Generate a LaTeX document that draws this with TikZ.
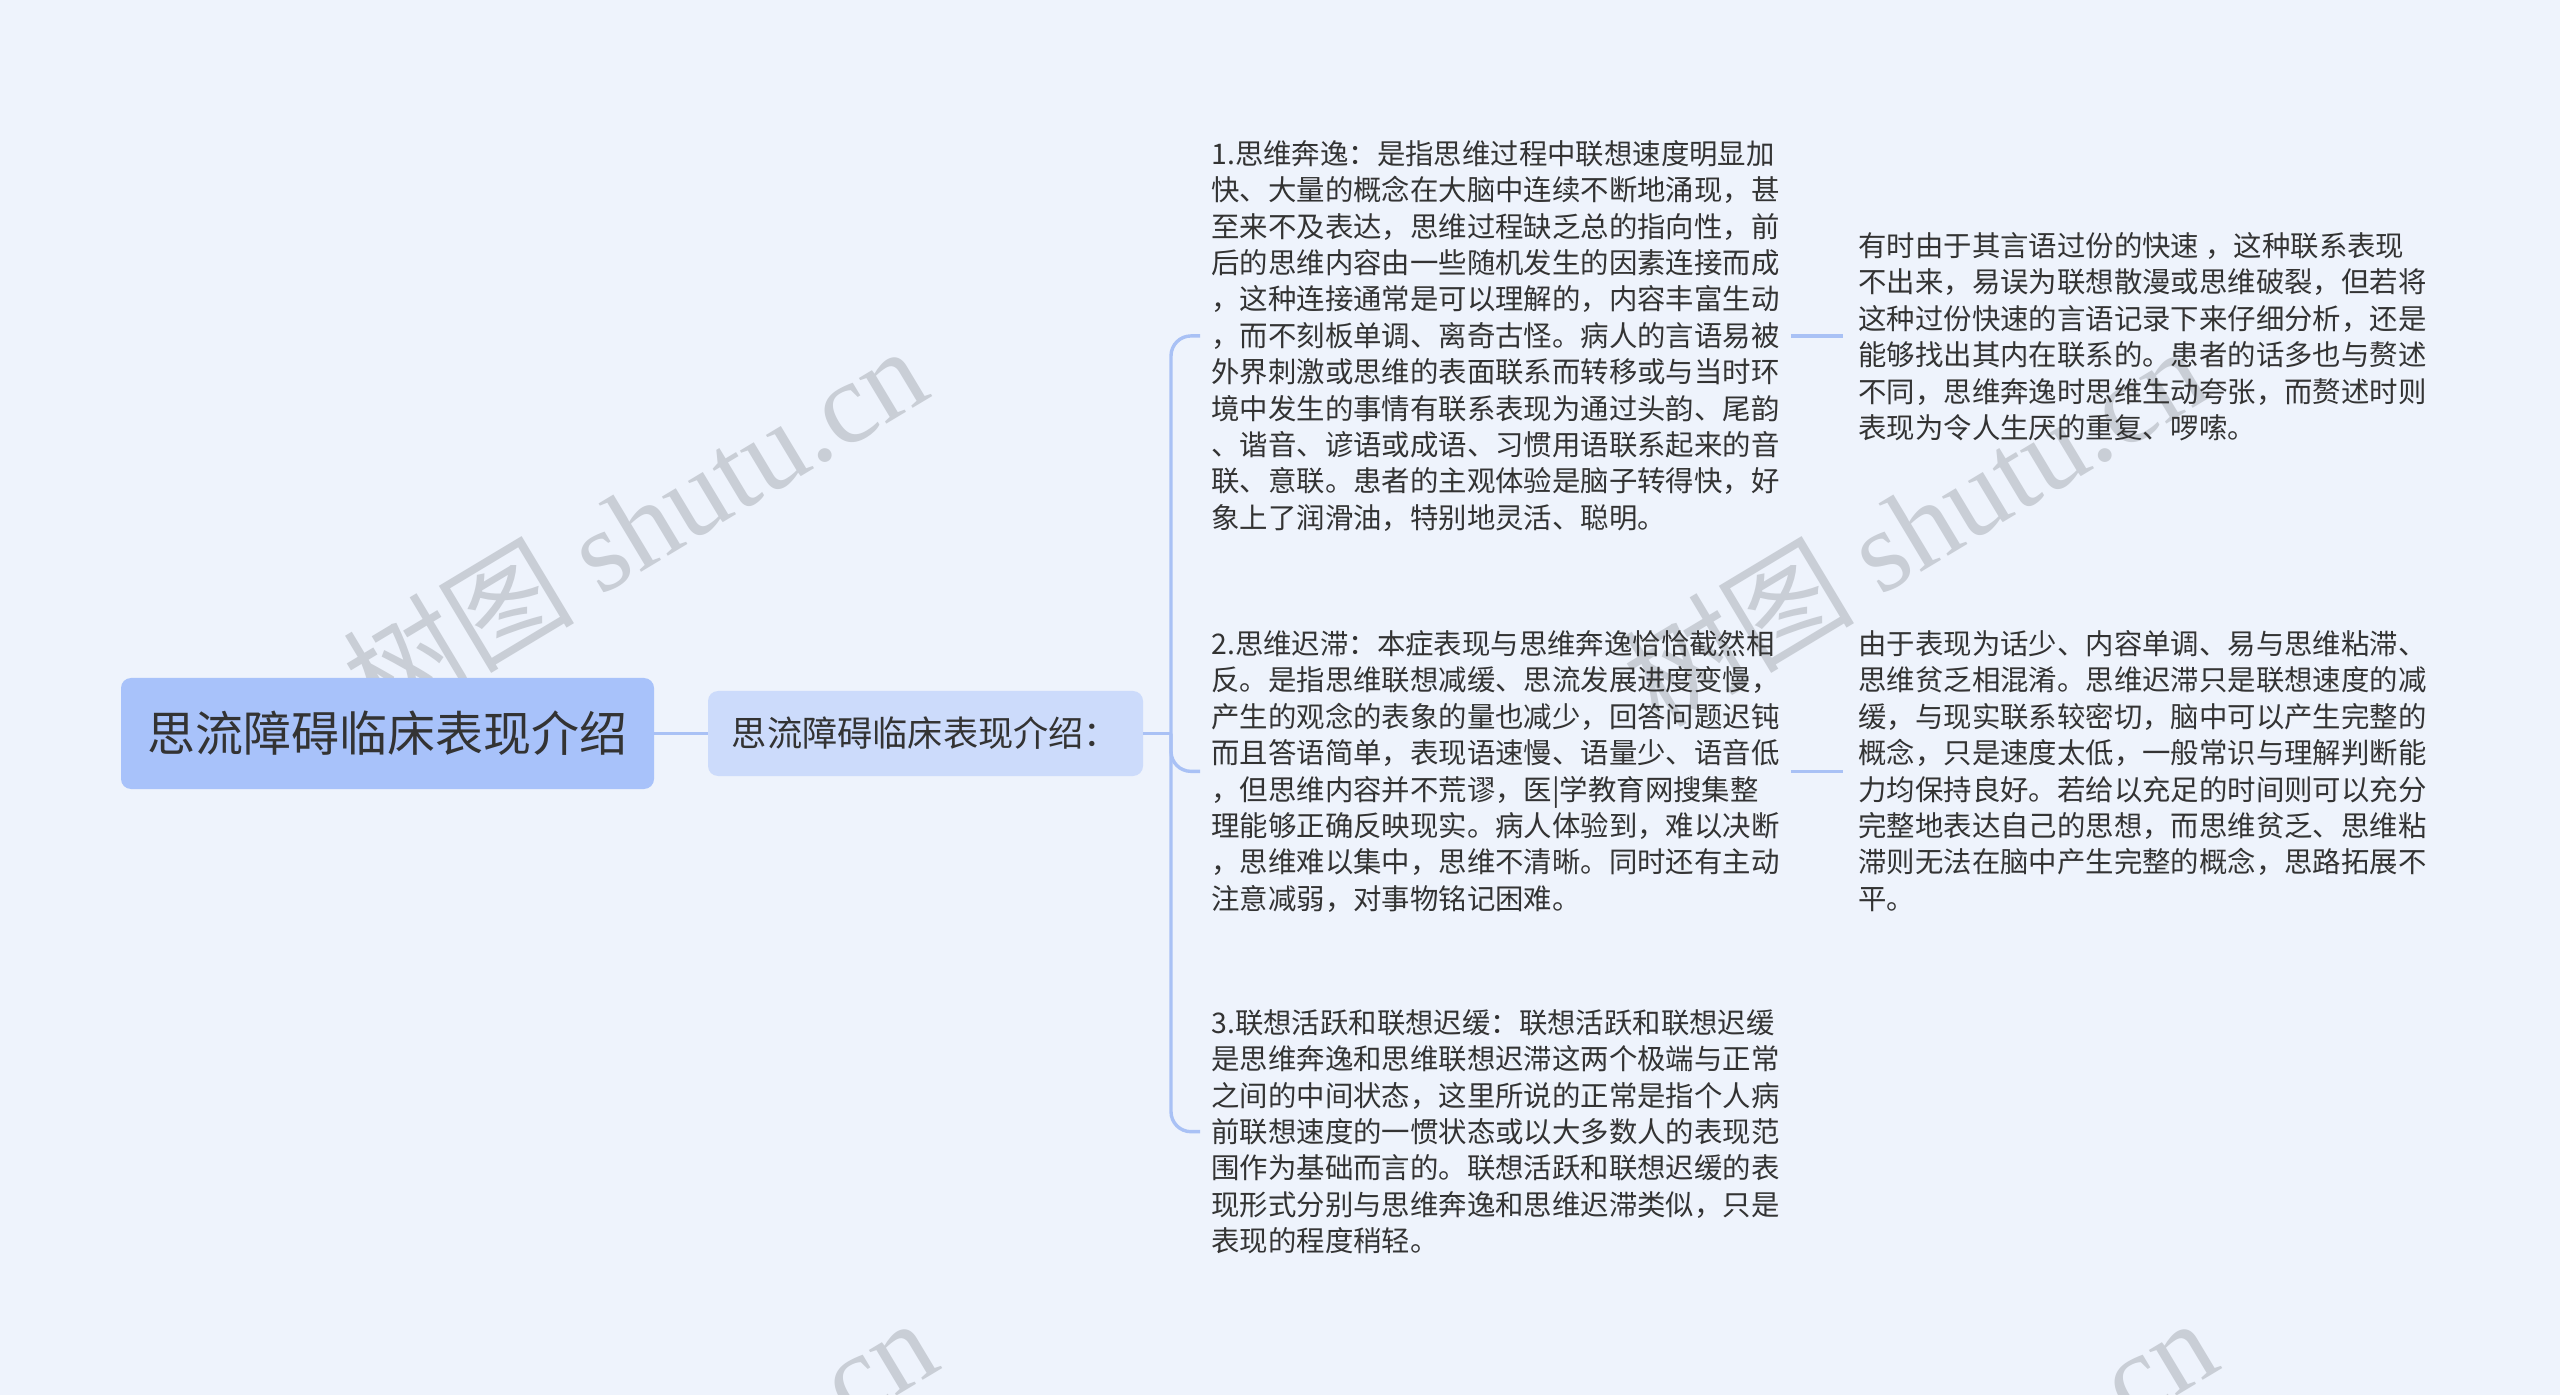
\documentclass[tikz,border=0pt]{standalone}
\usepackage{fontspec}
\setmainfont{Noto Sans CJK SC}
\newfontfamily\wmfont{Liberation Serif}
\definecolor{bgcol}{HTML}{EEF3FC}
\definecolor{rootcol}{HTML}{A8C2FA}
\definecolor{subcol}{HTML}{CCDBFB}
\definecolor{linkcol}{HTML}{A9C1F5}
\definecolor{inkcol}{HTML}{333333}
\definecolor{wmcol}{HTML}{C9CED6}

\begin{document}
\begin{tikzpicture}[x=0.5pt,y=-0.5pt]
  \tikzset{rootbox/.style={shape=rectangle,rounded corners=5pt,fill=rootcol,text=inkcol,font=\fontsize{24pt}{28pt}\selectfont,minimum width=266.5pt,minimum height=55.5pt,inner sep=0pt},
    subbox/.style={shape=rectangle,rounded corners=5pt,fill=subcol,text=inkcol,font=\fontsize{17.6pt}{20pt}\selectfont,minimum width=217.5pt,minimum height=42.5pt,inner sep=0pt},
    leaf/.style={anchor=north west,align=left,text=inkcol,font=\fontsize{14.2pt}{18.2pt}\selectfont,inner xsep=5.5pt,inner ysep=0pt},
    farleaf/.style={leaf,inner xsep=7.5pt},
    link/.style={draw=linkcol,line width=1.7pt},
    wmark/.style={anchor=base west,rotate=31,text=wmcol,font=\fontsize{58pt}{58pt}\selectfont,inner sep=0pt}};
  \useasboundingbox (0,0) rectangle (2560,1395);
  \fill[bgcol] (0,0) rectangle (2560,1395);
  \begin{scope}
    \clip (0,0) rectangle (2560,1395);
    \foreach \wx/\wy [count=\i] in {379/730,1659/730,389/1702,1669/1702}
      \node[wmark] (wm\i) at (\wx,\wy) {树图 {\wmfont shutu.cn}};
  \end{scope}
  \node[rootbox] (root) at (387.5,733.5) {思流障碍临床表现介绍};
  \node[subbox] (sub) at (925.5,733.5) {思流障碍临床表现介绍：};
  \node[leaf] (b1) at (1200,140) {1.思维奔逸：是指思维过程中联想速度明显加\\
快、大量的概念在大脑中连续不断地涌现，甚\\
至来不及表达，思维过程缺乏总的指向性，前\\
后的思维内容由一些随机发生的因素连接而成\\
，这种连接通常是可以理解的，内容丰富生动\\
，而不刻板单调、离奇古怪。病人的言语易被\\
外界刺激或思维的表面联系而转移或与当时环\\
境中发生的事情有联系表现为通过头韵、尾韵\\
、谐音、谚语或成语、习惯用语联系起来的音\\
联、意联。患者的主观体验是脑子转得快，好\\
象上了润滑油，特别地灵活、聪明。};
  \node[leaf] (b2) at (1200,630) {2.思维迟滞：本症表现与思维奔逸恰恰截然相\\
反。是指思维联想减缓、思流发展进度变慢，\\
产生的观念的表象的量也减少，回答问题迟钝\\
而且答语简单，表现语速慢、语量少、语音低\\
，但思维内容并不荒谬，医|学教育网搜集整\\
理能够正确反映现实。病人体验到，难以决断\\
，思维难以集中，思维不清晰。同时还有主动\\
注意减弱，对事物铭记困难。};
  \node[leaf] (b3) at (1200,1009) {3.联想活跃和联想迟缓：联想活跃和联想迟缓\\
是思维奔逸和思维联想迟滞这两个极端与正常\\
之间的中间状态，这里所说的正常是指个人病\\
前联想速度的一惯状态或以大多数人的表现范\\
围作为基础而言的。联想活跃和联想迟缓的表\\
现形式分别与思维奔逸和思维迟滞类似，只是\\
表现的程度稍轻。};
  \node[farleaf] (r1) at (1843,232) {有时由于其言语过份的快速 ，这种联系表现\\
不出来，易误为联想散漫或思维破裂，但若将\\
这种过份快速的言语记录下来仔细分析，还是\\
能够找出其内在联系的。患者的话多也与赘述\\
不同，思维奔逸时思维生动夸张，而赘述时则\\
表现为令人生厌的重复、啰嗦。};
  \node[farleaf] (r2) at (1843,630) {由于表现为话少、内容单调、易与思维粘滞、\\
思维贫乏相混淆。思维迟滞只是联想速度的减\\
缓，与现实联系较密切，脑中可以产生完整的\\
概念，只是速度太低，一般常识与理解判断能\\
力均保持良好。若给以充足的时间则可以充分\\
完整地表达自己的思想，而思维贫乏、思维粘\\
滞则无法在脑中产生完整的概念，思路拓展不\\
平。};
  \coordinate (fork) at (1171,733.5);
  \draw[link] (root.east) -- (sub.west);
  \draw[link] (sub.east) -- (fork);
  \draw[link,rounded corners=10pt] (b1.west) -| (fork) |- (b3.west);
  \draw[link,rounded corners=10pt] (fork) |- (b2.west);
  \draw[link] (b1.east) -- (b1.east -| r1.west);
  \draw[link] (b2.east) -- (b2.east -| r2.west);
\end{tikzpicture}
\end{document}
